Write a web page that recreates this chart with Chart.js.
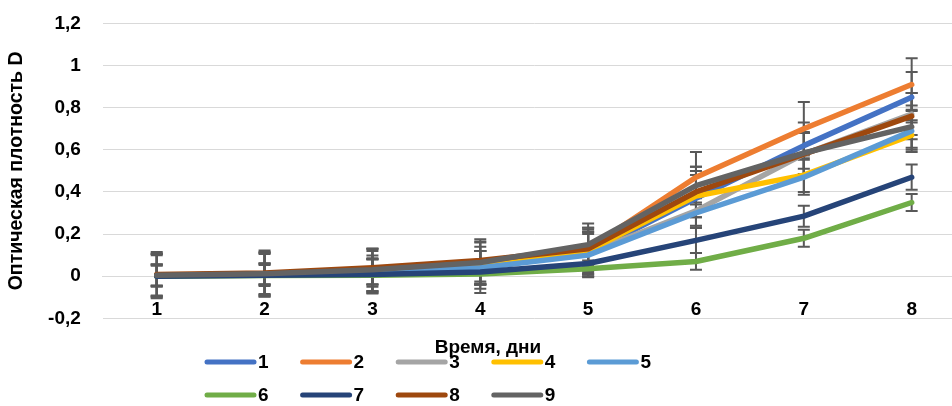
<!DOCTYPE html>
<html>
<head>
<meta charset="utf-8">
<script src="https://cdn.jsdelivr.net/npm/chart.js@4"></script>
<style>
  html, body { margin: 0; padding: 0; background: #fff; overflow: hidden; }
  #wrap { width: 976px; height: 406px; }
</style>
</head>
<body>
<div id="wrap"><canvas id="chart" width="976" height="406"></canvas></div>
<script>
// Data
const categories = ['1', '2', '3', '4', '5', '6', '7', '8'];
const seriesNames = ['1', '2', '3', '4', '5', '6', '7', '8', '9'];

const s1 = [0.005, 0.01, 0.02, 0.04, 0.11, 0.37, 0.62, 0.85];
const s2 = [0.005, 0.012, 0.03, 0.06, 0.13, 0.47, 0.70, 0.91];
const s3 = [0.005, 0.01, 0.02, 0.04, 0.11, 0.31, 0.58, 0.77];
const s4 = [0.005, 0.01, 0.02, 0.04, 0.12, 0.38, 0.48, 0.67];
const s5 = [0.005, 0.01, 0.02, 0.04, 0.10, 0.30, 0.47, 0.69];
const s6 = [0.0, 0.003, 0.005, 0.01, 0.035, 0.07, 0.18, 0.35];
const s7 = [0.0, 0.005, 0.008, 0.02, 0.06, 0.17, 0.285, 0.47];
const s8 = [0.008, 0.015, 0.04, 0.075, 0.13, 0.40, 0.58, 0.76];
const s9 = [0.005, 0.012, 0.03, 0.065, 0.15, 0.43, 0.585, 0.71];

// error bar half-lengths (+/-)
const e1 = [0.1, 0.1, 0.1, 0.1, 0.1, 0.13, 0.11, 0.12];
const e2 = [0.1, 0.1, 0.1, 0.1, 0.1, 0.12, 0.127, 0.125];
const e3 = [0.05, 0.05, 0.06, 0.08, 0.1, 0.08, 0.1, 0.1];
const e4 = [0.05, 0.05, 0.06, 0.08, 0.1, 0.1, 0.08, 0.07];
const e5 = [0.05, 0.05, 0.06, 0.08, 0.1, 0.07, 0.083, 0.1];
const e6 = [0.05, 0.05, 0.08, 0.05, 0.04, 0.04, 0.04, 0.04];
const e7 = [0.1, 0.1, 0.09, 0.1, 0.06, 0.06, 0.05, 0.06];
const e8 = [0.1, 0.1, 0.09, 0.1, 0.1, 0.12, 0.1, 0.11];
const e9 = [0.11, 0.11, 0.1, 0.1, 0.1, 0.09, 0.1, 0.1];

const yTicks = [-0.2, 0, 0.2, 0.4, 0.6, 0.8, 1, 1.2];
const yTickLabels = ['-0,2', '0', '0,2', '0,4', '0,6', '0,8', '1', '1,2'];

const seriesValues = [s1, s2, s3, s4, s5, s6, s7, s8, s9];
const seriesErrors = [e1, e2, e3, e4, e5, e6, e7, e8, e9];
const colors = ['#4472C4', '#ED7D31', '#A5A5A5', '#FFC000', '#5B9BD5',
                '#70AD47', '#264478', '#9E480E', '#636363'];

const FONT = '"Liberation Sans", Arial, sans-serif';

// Error bars, drawn under the lines like Excel does
const errorBars = {
    id: 'errorBars',
    beforeDatasetsDraw(chart) {
        const ctx = chart.ctx;
        const xs = chart.scales.x, ys = chart.scales.y;
        ctx.save();
        ctx.strokeStyle = '#595959';
        ctx.lineWidth = 2;
        seriesValues.forEach((vals, i) => {
            vals.forEach((v, j) => {
                const x = xs.getPixelForValue(j);
                const top = ys.getPixelForValue(v + seriesErrors[i][j]);
                const bot = ys.getPixelForValue(v - seriesErrors[i][j]);
                ctx.beginPath();
                ctx.moveTo(x, top); ctx.lineTo(x, bot);
                ctx.moveTo(x - 6, top); ctx.lineTo(x + 6, top);
                ctx.moveTo(x - 6, bot); ctx.lineTo(x + 6, bot);
                ctx.stroke();
            });
        });
        ctx.restore();
    }
};

// Legend in 5 columns + axis title sitting on top of it
const bottomBits = {
    id: 'bottomBits',
    afterDraw(chart) {
        const ctx = chart.ctx;
        ctx.save();
        ctx.font = 'bold 19px ' + FONT;
        ctx.textBaseline = 'middle';
        ctx.textAlign = 'left';
        ctx.lineCap = 'round';
        ctx.lineWidth = 5;
        seriesNames.forEach((name, i) => {
            const col = i % 5, row = Math.floor(i / 5);
            const x0 = 207 + col * 95.6;
            const y0 = 362 + row * 33;
            ctx.strokeStyle = colors[i];
            ctx.beginPath();
            ctx.moveTo(x0, y0); ctx.lineTo(x0 + 47, y0);
            ctx.stroke();
            ctx.fillStyle = '#000';
            ctx.fillText(name, x0 + 51, y0 + 1);
        });
        ctx.textAlign = 'center';
        ctx.fillText('Время, дни', 488, 348);
        ctx.restore();
    }
};

function noPad(scale) {
    scale.paddingTop = 0;
    scale.paddingBottom = 0;
    scale.paddingLeft = 0;
    scale.paddingRight = 0;
}

const ctx = document.getElementById('chart').getContext('2d');
const chart = new Chart(ctx, {
    type: 'line',
    data: {
        labels: categories,
        datasets: seriesValues.map((vals, i) => ({
            label: seriesNames[i],
            data: vals,
            borderColor: colors[i],
            backgroundColor: colors[i],
            borderWidth: 5.5,
            borderCapStyle: 'round',
            borderJoinStyle: 'round',
            pointRadius: 0,
            tension: 0,
            order: 8 - i
        }))
    },
    options: {
        responsive: false,
        animation: false,
        layout: { padding: { left: 2, top: 23.5, right: 976 - 965.6, bottom: 406 - 318.3 } },
        scales: {
            x: {
                position: { y: 0 },
                offset: true,
                grid: { display: false, drawTicks: false },
                border: { display: true, color: '#D9D9D9', width: 1 },
                ticks: {
                    color: '#000',
                    font: { family: FONT, size: 19, weight: 'bold' },
                    padding: 22,
                    maxRotation: 0
                },
                afterFit(scale) { noPad(scale); }
            },
            y: {
                min: -0.2,
                max: 1.2,
                afterBuildTicks(scale) { scale.ticks = yTicks.map(v => ({ value: v })); },
                grid: { color: '#D9D9D9', lineWidth: 1, drawTicks: false },
                border: { display: false },
                ticks: {
                    color: '#000',
                    font: { family: FONT, size: 19, weight: 'bold' },
                    padding: 22,
                    callback: (v, idx) => yTickLabels[idx]
                },
                title: {
                    display: true,
                    text: 'Оптическая плотность D',
                    color: '#000',
                    font: { family: FONT, size: 19.5, weight: 'bold' },
                    padding: { top: 3, bottom: 0 }
                },
                afterFit(scale) { scale.width = 102.8 - 2; noPad(scale); }
            }
        },
        plugins: {
            legend: { display: false },
            tooltip: { enabled: false }
        }
    },
    plugins: [errorBars, bottomBits]
});
</script>
</body>
</html>
